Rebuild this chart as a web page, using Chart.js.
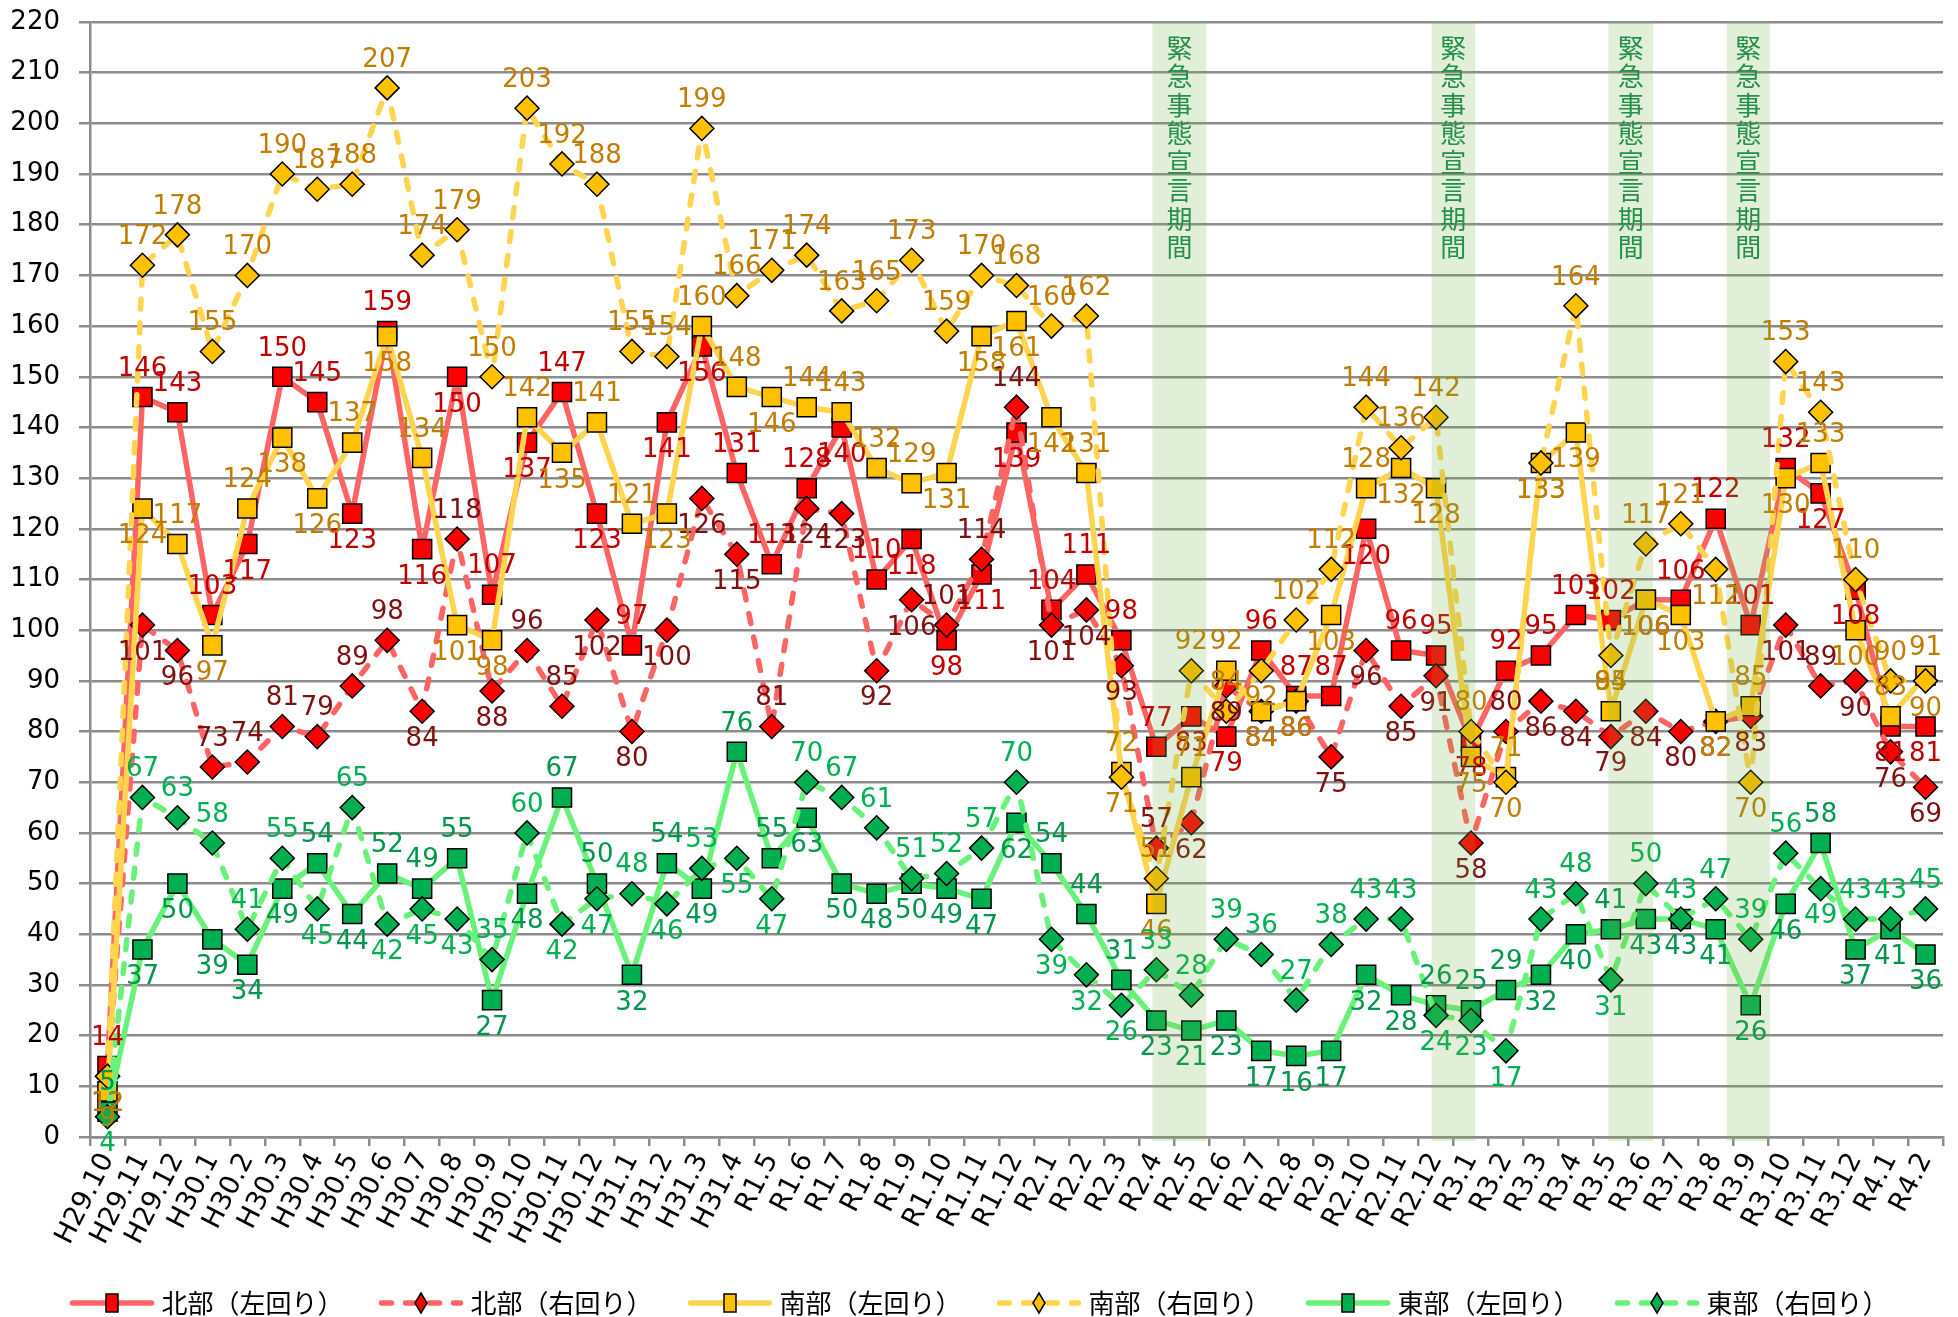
<!DOCTYPE html>
<html>
<head>
<meta charset="utf-8">
<script src="https://cdn.jsdelivr.net/npm/chart.js@4/dist/chart.umd.min.js"></script>
<style>
html, body { margin: 0; padding: 0; background: #ffffff; }
#wrap { width: 1958px; height: 1317px; }
</style>
</head>
<body>
<div id="wrap"><canvas id="c" width="1958" height="1317"></canvas></div>
<script>
// ---------- data ----------
const categories = ['H29.10','H29.11','H29.12',
  'H30.1','H30.2','H30.3','H30.4','H30.5','H30.6','H30.7','H30.8','H30.9','H30.10','H30.11','H30.12',
  'H31.1','H31.2','H31.3','H31.4',
  'R1.5','R1.6','R1.7','R1.8','R1.9','R1.10','R1.11','R1.12',
  'R2.1','R2.2','R2.3','R2.4','R2.5','R2.6','R2.7','R2.8','R2.9','R2.10','R2.11','R2.12',
  'R3.1','R3.2','R3.3','R3.4','R3.5','R3.6','R3.7','R3.8','R3.9','R3.10','R3.11','R3.12',
  'R4.1','R4.2'];

const seriesNames = ['北部（左回り）','北部（右回り）','南部（左回り）','南部（右回り）','東部（左回り）','東部（右回り）'];

const northLeft  = [14,146,143,103,117,150,145,123,159,116,150,107,137,147,123,97,141,156,131,113,128,140,110,118,98,111,139,104,111,98,77,83,79,96,87,87,120,96,95,78,92,95,103,102,106,106,122,101,132,127,108,81,81];
const northRight = [12,101,96,73,74,81,79,89,98,84,118,88,96,85,102,80,100,126,115,81,124,123,92,106,101,114,144,101,104,93,57,62,89,84,86,75,96,85,91,58,80,86,84,79,84,80,82,83,101,89,90,76,69];
const southLeft  = [9,124,117,97,124,138,126,137,158,134,101,98,142,135,141,121,123,160,148,146,144,143,132,129,131,158,161,142,131,72,46,71,92,84,86,103,128,132,128,75,71,133,139,84,106,103,82,85,130,133,100,83,91];
const southRight = [12,172,178,155,170,190,187,188,207,174,179,150,203,192,188,155,154,199,166,171,174,163,165,173,159,170,168,160,162,71,51,92,84,92,102,112,144,136,142,80,70,133,164,95,117,121,112,70,153,143,110,90,90];
const eastLeft   = [5,37,50,39,34,49,54,44,52,49,55,27,48,67,50,32,54,49,76,55,63,50,48,50,49,47,62,54,44,31,23,21,23,17,16,17,32,28,26,25,29,32,40,41,43,43,41,26,46,58,37,41,36];
const eastRight  = [4,67,63,58,41,55,45,65,42,45,43,35,60,42,47,48,46,53,55,47,70,67,61,51,52,57,70,39,32,26,33,28,39,36,27,38,43,43,24,23,17,43,48,31,50,43,47,39,56,49,43,43,45];

const yMin = 0, yMax = 220, yStep = 10;

// 緊急事態宣言期間 (month, fraction past it) -> (month, fraction past it)
const emergencyStart = [['R2.3', 0.89], ['R2.11', 0.87], ['R3.4', 0.93], ['R3.8', 0.31]];
const emergencyEnd   = [['R2.5', 0.43], ['R3.1', 0.12],  ['R3.6', 0.21], ['R3.9', 0.55]];
const emergencyText  = '緊急事態宣言期間';

// ---------- styles ----------
const lineColors   = ['#ff6464', '#ff6464', '#ffd44f', '#ffd44f', '#68f27a', '#68f27a'];
const markerColors = ['#ff0000', '#ff0000', '#ffc000', '#ffc000', '#00b050', '#00b050'];
const labelColors  = ['#c00000', '#7f1010', '#c17d00', '#c17d00', '#00964b', '#00b050'];
const seriesData   = [northLeft, northRight, southLeft, southRight, eastLeft, eastRight];
const NUM_FONT = '"DejaVu Sans", Verdana, sans-serif';
const JP_FONT = '"Noto Sans CJK JP", "Noto Sans", sans-serif';

const datasets = seriesData.map((d, i) => {
  const dashed = i % 2 === 1;
  return {
    label: seriesNames[i],
    data: d,
    borderColor: lineColors[i],
    backgroundColor: markerColors[i],
    borderWidth: 5.5,
    borderDash: dashed ? [10, 14] : [],
    borderCapStyle: 'round',
    borderJoinStyle: 'round',
    pointStyle: dashed ? 'rectRot' : 'rect',
    pointRadius: dashed ? 12 : 13.5,
    pointBackgroundColor: markerColors[i],
    pointBorderColor: '#000000',
    pointBorderWidth: 1.5,
    tension: 0,
    order: 6 - i
  };
});

// label side: east pair compares with its partner; others go where there is more free room
function labelAbove(i, j) {
  const v = seriesData[i][j];
  if (i >= 4) {
    const pv = seriesData[i ^ 1][j];
    return v > pv || (v === pv && i % 2 === 1);
  }
  let gapUp = Infinity, gapDown = v - yMin;
  for (let k = 0; k < seriesData.length; k++) {
    if (k === i) continue;
    const o = seriesData[k][j];
    if (o >= v) gapUp = Math.min(gapUp, o - v);
    if (o < v) gapDown = Math.min(gapDown, v - o);
  }
  return gapUp >= gapDown;
}

// ---------- plugins ----------
const labelPlugin = {
  id: 'valueLabels',
  afterDatasetsDraw(chart) {
    const ctx = chart.ctx;
    ctx.save();
    ctx.font = '26px ' + NUM_FONT;
    ctx.textAlign = 'center';
    ctx.textBaseline = 'middle';
    for (let i = 0; i < seriesData.length; i++) {
      const meta = chart.getDatasetMeta(i);
      ctx.fillStyle = labelColors[i];
      meta.data.forEach((pt, j) => {
        const above = labelAbove(i, j);
        ctx.fillText(String(seriesData[i][j]), pt.x, pt.y + (above ? -28 : 28));
      });
    }
    ctx.restore();

    // emergency period bands (translucent overlay)
    const xs = chart.scales.x;
    const area = chart.chartArea;
    ctx.save();
    for (let k = 0; k < emergencyStart.length; k++) {
      const a = categories.indexOf(emergencyStart[k][0]) + emergencyStart[k][1];
      const b = categories.indexOf(emergencyEnd[k][0]) + emergencyEnd[k][1];
      const x0 = xs.getPixelForValue(a);
      const x1 = xs.getPixelForValue(b);
      ctx.fillStyle = 'rgba(112,173,71,0.21)';
      ctx.fillRect(x0, area.top, x1 - x0, area.bottom - area.top + 4);
      ctx.fillStyle = '#25904c';
      ctx.font = '26px ' + JP_FONT;
      ctx.textAlign = 'center';
      ctx.textBaseline = 'middle';
      const cx = (x0 + x1) / 2;
      for (let c = 0; c < emergencyText.length; c++) {
        ctx.fillText(emergencyText[c], cx, area.top + 26 + c * 28.5);
      }
    }
    ctx.restore();
  }
};

const legendPlugin = {
  id: 'customLegend',
  afterDraw(chart) {
    const ctx = chart.ctx;
    const y = chart.height - 14;
    const spacing = 309, sampleW = 85, gap = 7;
    ctx.save();
    ctx.font = '26px ' + JP_FONT;
    const lastW = ctx.measureText(seriesNames[5]).width;
    const total = 5 * spacing + sampleW + gap + lastW;
    let x = (chart.width - total) / 2;
    for (let i = 0; i < seriesNames.length; i++) {
      const dashed = i % 2 === 1;
      ctx.strokeStyle = lineColors[i];
      ctx.lineWidth = 5.5;
      ctx.lineCap = 'round';
      ctx.setLineDash(dashed ? [10, 14] : []);
      ctx.beginPath();
      ctx.moveTo(x + 3, y);
      ctx.lineTo(x + sampleW - 3, y);
      ctx.stroke();
      ctx.setLineDash([]);
      const mx = x + sampleW / 2;
      ctx.fillStyle = markerColors[i];
      ctx.strokeStyle = '#000';
      ctx.lineWidth = 1.5;
      ctx.beginPath();
      if (dashed) {
        ctx.moveTo(mx, y - 10); ctx.lineTo(mx + 6, y); ctx.lineTo(mx, y + 10); ctx.lineTo(mx - 6, y); ctx.closePath();
      } else {
        ctx.rect(mx - 6, y - 9, 12, 18);
      }
      ctx.fill();
      ctx.stroke();
      ctx.fillStyle = '#000';
      ctx.textAlign = 'left';
      ctx.textBaseline = 'middle';
      ctx.fillText(seriesNames[i], x + sampleW + gap, y);
      x += spacing;
    }
    ctx.restore();
  }
};

// ---------- chart ----------
new Chart(document.getElementById('c'), {
  type: 'line',
  data: { labels: categories, datasets: datasets },
  options: {
    responsive: false,
    animation: false,
    devicePixelRatio: 1,
    layout: { padding: { top: 22, left: 0, right: 14, bottom: 0 } },
    plugins: { legend: { display: false }, tooltip: { enabled: false } },
    scales: {
      x: {
        type: 'category',
        offset: true,
        grid: { display: true, drawOnChartArea: false, drawTicks: true, tickLength: 9, offset: true, color: '#8c8c8c', lineWidth: 2.5 },
        border: { display: true, color: '#8c8c8c', width: 2.5 },
        ticks: { autoSkip: false, maxRotation: 63, minRotation: 63, padding: 2, color: '#000', font: { family: NUM_FONT, size: 27 } },
        afterFit(scale) { scale.paddingLeft = 0; scale.paddingRight = 0; scale.height = 180; }
      },
      y: {
        min: yMin, max: yMax,
        ticks: { stepSize: yStep, padding: 19, color: '#000', font: { family: NUM_FONT, size: 26 } },
        grid: { color: '#8c8c8c', lineWidth: 2.5, tickLength: 11 },
        border: { display: true, color: '#8c8c8c', width: 2.5 },
        afterFit(scale) { scale.width = 90; scale.paddingTop = 0; scale.paddingBottom = 0; }
      }
    }
  },
  plugins: [labelPlugin, legendPlugin]
});
</script>
</body>
</html>
